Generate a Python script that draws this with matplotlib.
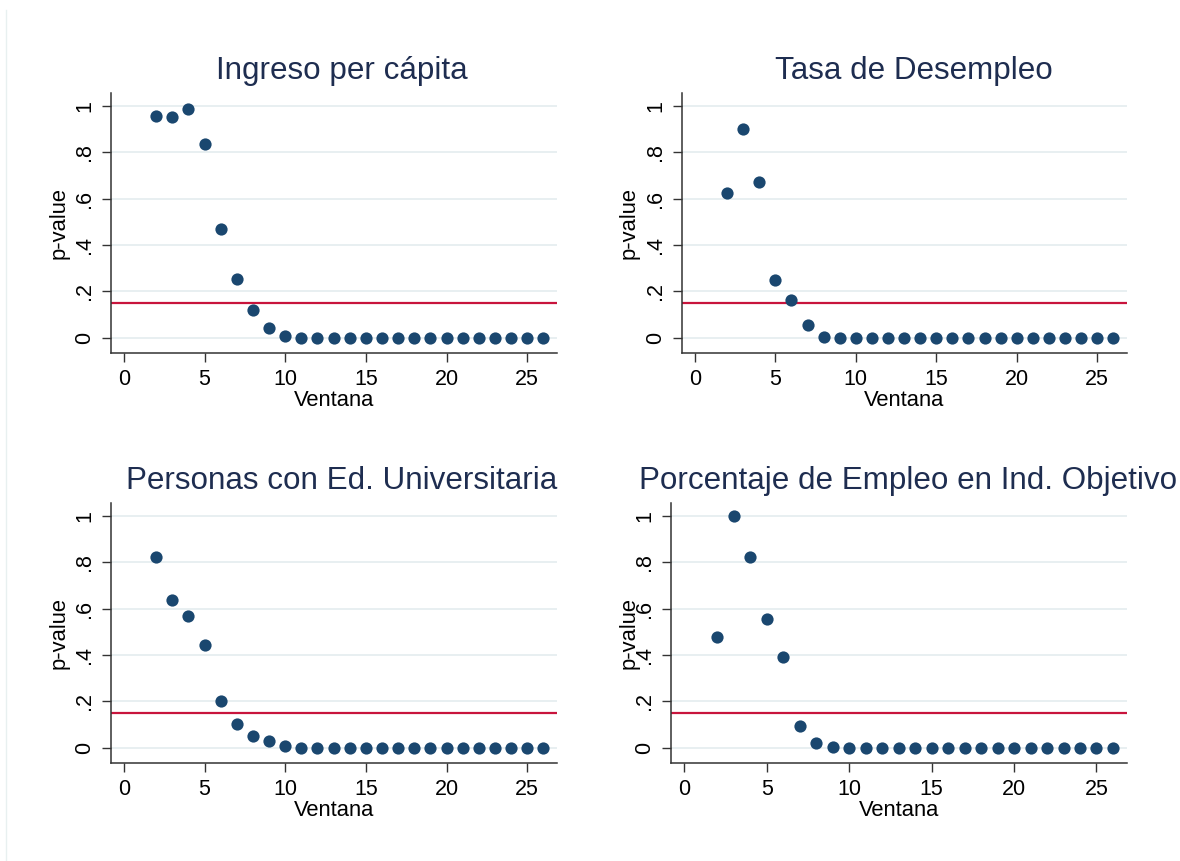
import matplotlib.pyplot as plt
import numpy as np

plt.rcParams['font.family'] = ['Liberation Sans', 'DejaVu Sans']

# ventanas evaluadas (2..26) y p-values por variable
ventana = np.arange(2, 27)

titulos = ['Ingreso per cápita', 'Tasa de Desempleo',
           'Personas con Ed. Universitaria', 'Porcentaje de Empleo en Ind. Objetivo']

p_ingreso = [0.956, 0.953, 0.986, 0.837, 0.467, 0.255, 0.120, 0.043, 0.007] + [0.0] * 16
p_desempleo = [0.625, 0.898, 0.670, 0.251, 0.163, 0.056, 0.004] + [0.0] * 18
p_universitaria = [0.822, 0.636, 0.570, 0.444, 0.201, 0.105, 0.050, 0.029, 0.009] + [0.0] * 16
p_empleo_obj = [0.479, 0.997, 0.824, 0.557, 0.390, 0.095, 0.023, 0.004] + [0.0] * 17

umbral = 0.15

series = [p_ingreso, p_desempleo, p_universitaria, p_empleo_obj]

W, H = 1180, 861
# posiciones de los paneles en pixeles: (izq, arriba, der, abajo)
cajas = [(111, 93, 557, 353), (682, 93, 1127, 353),
         (111, 503, 557, 763), (671, 503, 1127, 763)]
titulo_x = [342, 914, 342, 908]
ylabel_x = [70, 640, 70, 640]

azul = '#1a476f'
rojo = '#c8143c'
grid = '#e6eef0'
eje = '#333333'
texto_titulo = '#1e2d50'

fig = plt.figure(figsize=(W / 100, H / 100), dpi=100)

for i, (caja, titulo, pv) in enumerate(zip(cajas, titulos, series)):
    l, t, r, b = caja
    ax = fig.add_axes([l / W, 1 - b / H, (r - l) / W, (b - t) / H])
    ax.set_xlim(-0.8, 26.85)
    ax.set_ylim(-0.065, 1.055)

    for yv in np.arange(0, 1.01, 0.2):
        ax.axhline(yv, color=grid, lw=1.3, zorder=0)
    ax.axhline(umbral, color=rojo, lw=1.6, zorder=1)
    ax.plot(ventana, pv, 'o', color=azul, ms=8.8, mec='none', zorder=3)

    ax.set_xticks([0, 5, 10, 15, 20, 25])
    ax.set_yticks([0, 0.2, 0.4, 0.6, 0.8, 1.0])
    ax.set_yticklabels(['0', '.2', '.4', '.6', '.8', '1'], rotation=90, va='center')
    ax.tick_params(axis='both', direction='out', length=6.5, width=1, color=eje,
                   labelsize=15.5, labelcolor='black', pad=5)

    for s in ['top', 'right']:
        ax.spines[s].set_visible(False)
    for s in ['left', 'bottom']:
        ax.spines[s].set_color(eje)
        ax.spines[s].set_linewidth(1.1)

    ax.set_xlabel('Ventana', fontsize=15.8, labelpad=0)
    ax.set_ylabel('p-value', fontsize=15.8)
    ax.yaxis.set_label_coords((ylabel_x[i] - l) / (r - l), 0.5)

    ax.set_title(titulo, fontsize=22.6, color=texto_titulo,
                 x=(titulo_x[i] - l) / (r - l), pad=10)

# borde tenue del area del grafico
fig.add_artist(plt.Line2D([6 / W, 6 / W], [0, 1 - 10 / H], color='#e8f0f0', lw=1))

fig.savefig('out.png', dpi=100, facecolor='white')
